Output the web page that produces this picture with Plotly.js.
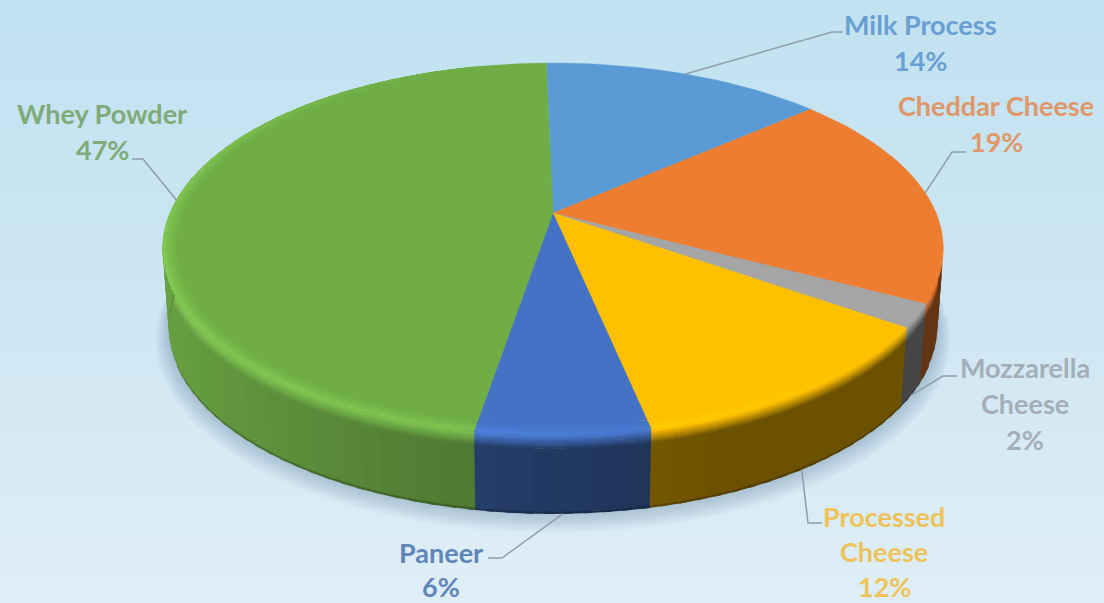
<!DOCTYPE html>
<html>
<head>
<meta charset="utf-8">
<script src="https://cdn.plot.ly/plotly-3.0.1.min.js"></script>
<style>
  html, body { margin: 0; padding: 0; width: 1104px; height: 603px; overflow: hidden;
    background: linear-gradient(180deg, #c1e2f0 0%, #cbe5f2 40%, #dfeef6 100%); }
  #chart { width: 1104px; height: 603px; }
</style>
</head>
<body>
<div id="chart"></div>
<script>
// Dairy product share, drawn as a tilted disc with a bevelled rim.
const categories  = ['Milk Process', 'Cheddar Cheese', 'Mozzarella Cheese', 'Processed Cheese', 'Paneer', 'Whey Powder'];
const values      = [14, 19, 2, 12, 6, 47];
const sliceColors = ['#5b9bd5', '#ed7d31', '#a5a5a5', '#ffc000', '#4472c4', '#70ad47'];
const wallGain    = [1, 1, 1, 1, 1, 1.3];
const textColors  = ['#6a9fd3', '#e0976a', '#a4aeb8', '#edc35a', '#5f86b8', '#7fab78'];
const labelLines  = [['Milk Process'], ['Cheddar Cheese'], ['Mozzarella', 'Cheese'], ['Processed', 'Cheese'], ['Paneer'], ['Whey Powder']];
const labelX      = [920, 996, 1025, 884, 441, 102];
const labelTopY   = [24, 105, 367, 516, 552, 113];
const lineStep    = [36, 36, 36, 35, 34, 36];
// Where each leader bends, and the face of the disc it starts from
const leaderBends = [[[832, 32], [843, 32]], [[952, 152], [966, 152]], [[943, 376], [957, 376]],
                     [[808, 523], [822, 523]], [[502, 558], [488, 558]], [[143, 159], [132, 159]]];
const leaderDepth = [0, 0, 1, 1, 1, 0];
const firstSliceAngle = -1.2;

// Perspective of the disc: top face and bottom rim
const faceTop = { cx: 553, cy: 213, a: 383, b: 179, k: 0.1935 };
const faceBot = { cx: 553, cy: 292, a: 377, b: 179, k: 0.1935 };

function project(p, deg, r) {
  const t = deg * Math.PI / 180, u = Math.sin(t) * r, v = Math.cos(t) * r, w = 1 + p.k * v;
  return [p.cx + p.a * u / w, p.cy - p.b * v / w];
}
function rimPoint(deg, r, d) {
  const a = project(faceTop, deg, r);
  if (!d) return a;
  const b = project(faceBot, deg, r);
  return [a[0] + (b[0] - a[0]) * d, a[1] + (b[1] - a[1]) * d];
}
function rgb(hex) { return [1, 3, 5].map(i => parseInt(hex.substr(i, 2), 16)); }
function css(c) { return 'rgb(' + c.map(x => Math.round(Math.max(0, Math.min(255, x)))).join(',') + ')'; }
function mix(a, b, t) { return a.map((x, i) => x + (b[i] - x) * t); }
function table(tbl, x) {
  if (x <= tbl[0][0]) return tbl[0][1];
  for (let i = 1; i < tbl.length; i++) if (x <= tbl[i][0]) {
    return tbl[i - 1][1] + (tbl[i][1] - tbl[i - 1][1]) * (x - tbl[i - 1][0]) / (tbl[i][0] - tbl[i - 1][0]);
  }
  return tbl[tbl.length - 1][1];
}
const glowTable = [[130, 0], [165, 0.35], [190, 0.8], [250, 1], [285, 0.8], [320, 0.3], [345, 0]];
const glow = deg => table(glowTable, deg);
const sideShade = deg => Math.max(0.42, 0.5 - 0.22 * Math.sin(deg * Math.PI / 180));
const lit = (base, deg) => base.map(x => x * (1 + 0.17 * glow(deg)));
const sideColor = (base, deg, i) => base.map(x => x * sideShade(deg) * wallGain[i]);

// Slice boundaries in degrees, clockwise from twelve o'clock
const total = values.reduce((s, v) => s + v, 0);
const edges = [firstSliceAngle];
values.forEach(v => edges.push(edges[edges.length - 1] + v / total * 360));

const traces = [];
function poly(pts, color, width) {
  traces.push({
    x: pts.map(p => p[0]).concat(pts[0][0]), y: pts.map(p => p[1]).concat(pts[0][1]),
    type: 'scatter', mode: 'lines', fill: 'toself', fillcolor: color,
    line: { color: color, width: width || 0 }, hoverinfo: 'skip', showlegend: false
  });
}
// Arc pieces of every slice in [lo, hi]. Each piece runs a little past its end
// and the next one paints over that overlap, which hides the joints.
function pieces(lo, hi, step, fn) {
  values.forEach((_, i) => {
    const a = Math.max(edges[i], lo), b = Math.min(edges[i + 1], hi);
    if (b <= a) return;
    const n = Math.ceil((b - a) / step);
    for (let j = 0; j < n; j++) fn(i, a + (b - a) * j / n, a + (b - a) * (j + 1) / n + 1);
  });
}
function band(d0, r0, d1, r1, a, b) {
  return [rimPoint(a, r0, d0), rimPoint(b, r0, d0), rimPoint(b, r1, d1), rimPoint(a, r1, d1)];
}

// Soft shadow under the disc
for (let s = 11; s >= 1; s--) {
  const pts = [];
  for (let deg = 0; deg < 360; deg += 4) {
    const q = project(faceBot, deg, 1 + s * 0.003);
    pts.push([q[0], q[1] + s * 0.9]);
  }
  traces.push({
    x: pts.map(p => p[0]).concat(pts[0][0]), y: pts.map(p => p[1]).concat(pts[0][1]),
    type: 'scatter', mode: 'lines', fill: 'toself', fillcolor: 'rgba(60,80,115,0.022)',
    line: { width: 0 }, hoverinfo: 'skip', showlegend: false
  });
}

// Wall: bright shoulder at the top, flat shade below, dark bottom edge.
// Only the front of the disc is walled; the rest sits behind the top face.
const shoulder = [0, 0.03, 0.06, 0.09, 0.12, 0.145, 0.17];
pieces(70, 271, 2.5, (i, a, b) => {
  const base = rgb(sliceColors[i]), m = (a + b) / 2;
  poly(band(0.17, 1, 0.975, 1, a, b), css(sideColor(base, m, i)));
  poly(band(0.97, 1, 1, 1, a, b), css(sideColor(base, m, i).map(x => x * 0.78)));
  for (let s = shoulder.length - 2; s >= 0; s--) {
    poly(band(shoulder[s], 1, shoulder[s + 1] + 0.006, 1, a, b), css(mix(lit(base, m), sideColor(base, m, i), (s + 0.6) / 6)));
  }
});

// Top faces
values.forEach((_, i) => {
  const pts = [[faceTop.cx, faceTop.cy]];
  const n = Math.ceil((edges[i + 1] - edges[i]) / 2);
  for (let j = 0; j <= n; j++) pts.push(project(faceTop, edges[i] + (edges[i + 1] - edges[i]) * j / n, 1));
  poly(pts, sliceColors[i], 0.4);
});

// Bevel on the top face, fading into the bright edge
const bevel = [0.966, 0.975, 0.984, 0.992, 1];
pieces(130, 345, 2.5, (i, a, b) => {
  const base = rgb(sliceColors[i]), m = (a + b) / 2;
  for (let s = 0; s < bevel.length - 1; s++) {
    poly(band(0, bevel[s], 0, 1, a, b), css(mix(base, lit(base, m), (s + 0.7) / 4)));
  }
});

// Leaders, anchored at the middle of each slice
values.forEach((_, i) => {
  const mid = (edges[i] + edges[i + 1]) / 2;
  const start = leaderDepth[i] ? rimPoint(mid, 1, 1) : project(faceTop, mid, 1);
  const path = [start].concat(leaderBends[i]);
  traces.push({
    x: path.map(p => p[0]), y: path.map(p => p[1]), type: 'scatter', mode: 'lines',
    line: { color: '#8f9dab', width: 1.5 }, hoverinfo: 'skip', showlegend: false
  });
});

// Labels: one annotation per text line so the line spacing stays fixed
const annotations = [];
categories.forEach((_, i) => {
  labelLines[i].concat(values[i] + '%').forEach((text, j) => {
    annotations.push({
      x: labelX[i], y: labelTopY[i] + j * lineStep[i], xref: 'x', yref: 'y',
      text: text, showarrow: false, xanchor: 'center', yanchor: 'middle',
      font: { family: 'Lato, "Open Sans", sans-serif', size: 27, weight: 700, color: textColors[i] }
    });
  });
});

Plotly.newPlot('chart', traces, {
  width: 1104, height: 603,
  margin: { l: 0, r: 0, t: 0, b: 0 },
  paper_bgcolor: 'rgba(0,0,0,0)', plot_bgcolor: 'rgba(0,0,0,0)',
  xaxis: { range: [0, 1104], visible: false, fixedrange: true },
  yaxis: { range: [603, 0], visible: false, fixedrange: true },
  showlegend: false, annotations: annotations
}, { staticPlot: true, displayModeBar: false });
</script>
</body>
</html>
